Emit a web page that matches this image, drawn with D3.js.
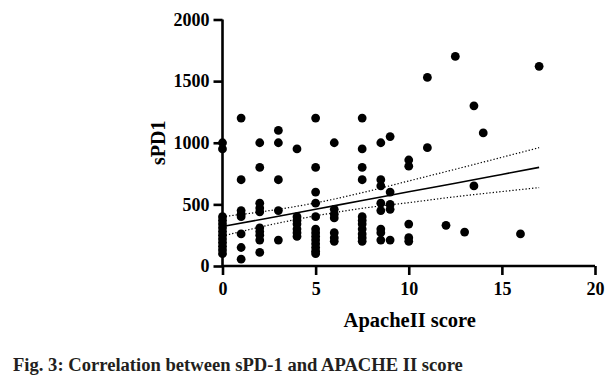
<!DOCTYPE html>
<html>
<head>
<meta charset="utf-8">
<script src="https://cdn.jsdelivr.net/npm/d3@7"></script>
<style>
  html, body { margin: 0; padding: 0; background: #fff; }
  svg { display: block; }
</style>
</head>
<body>
<svg id="chart" width="610" height="382"></svg>
<script>
// ---- Data ----
const apacheScores = [
  0,0,0,0,0,0,0,0,0,0,0,0,0,
  1,1,1,1,1,1,1,1,
  2,2,2,2,2,2,2,2,2,2,
  3,3,3,3,3,
  4,4,4,4,4,4,4,
  5,5,5,5,5,5,5,5,5,5,5,5,5,
  6,6,6,6,6,6,6,
  7.5,7.5,7.5,7.5,7.5,7.5,7.5,7.5,7.5,7.5,7.5,
  8.5,8.5,8.5,8.5,8.5,8.5,8.5,8.5,
  9,9,9,9,9,
  10,10,10,10,10,
  11,11,12,12.5,13,13.5,13.5,14,16,17
];
const sPD1Values = [
  1000,950,400,370,340,310,280,250,220,190,160,130,100,
  1200,700,450,420,400,260,150,55,
  1000,800,510,470,440,310,280,250,210,110,
  1100,1000,700,450,210,
  950,400,370,340,300,270,240,
  1200,800,600,510,400,300,270,240,210,180,150,120,100,
  1000,460,420,390,270,230,200,
  1200,950,800,700,400,370,340,300,260,230,200,
  1000,700,650,510,450,300,270,210,
  1050,600,500,460,210,
  860,810,340,230,200,
  1530,960,330,1700,275,1300,650,1080,260,1620
];
// regression line and 95% confidence band
const fitX     = [0, 2.5, 5, 7.5, 10, 12.5, 15, 17];
const fitY     = [320, 390, 461, 531, 602, 672, 743, 800];
const ciUpper  = [400, 449, 512, 595, 690, 785, 882, 960];
const ciLower  = [243, 332, 407, 468, 514, 562, 604, 636];
const xTicks = [0, 5, 10, 15, 20];
const yTicks = [0, 500, 1000, 1500, 2000];

// ---- Layout ----
const svg = d3.select("#chart");
const mLeft = 222.5, mRight = 595, mTop = 19.5, mBottom = 266;
const x = d3.scaleLinear().domain([0, 20]).range([mLeft, mRight]);
const y = d3.scaleLinear().domain([0, 2000]).range([mBottom, mTop]);
const serif = "'Liberation Serif', 'Times New Roman', serif";

// points
svg.append("g").selectAll("circle")
  .data(apacheScores.map((d, i) => [d, sPD1Values[i]]))
  .join("circle")
  .attr("cx", d => x(d[0]))
  .attr("cy", d => y(d[1]))
  .attr("r", 4.4)
  .attr("fill", "#000");

// regression + CI
const line = d3.line().x(d => x(d[0])).y(d => y(d[1])).curve(d3.curveMonotoneX);
svg.append("path")
  .datum(fitX.map((d, i) => [d, fitY[i]]))
  .attr("d", line).attr("fill", "none").attr("stroke", "#000").attr("stroke-width", 1.6);
[ciUpper, ciLower].forEach(arr => {
  svg.append("path")
    .datum(fitX.map((d, i) => [d, arr[i]]))
    .attr("d", line).attr("fill", "none").attr("stroke", "#000")
    .attr("stroke-width", 1.2).attr("stroke-dasharray", "1.3,2");
});

// axes
const xAxis = svg.append("g").attr("transform", `translate(0,${mBottom})`)
  .call(d3.axisBottom(x).tickValues(xTicks).tickSize(9).tickPadding(7).tickFormat(d3.format("d")));
const yAxis = svg.append("g").attr("transform", `translate(${mLeft},0)`)
  .call(d3.axisLeft(y).tickValues(yTicks).tickSize(9).tickPadding(4).tickFormat(d3.format("d")));
[xAxis, yAxis].forEach(g => {
  g.select(".domain").attr("stroke", "#000").attr("stroke-width", 2.6);
  g.selectAll(".tick line").attr("stroke", "#000").attr("stroke-width", 2.6);
  g.selectAll(".tick text").attr("fill", "#000")
    .style("font-family", serif).style("font-weight", "bold").style("font-size", "18px");
});
xAxis.select(".domain").attr("d", `M${mLeft},0H${mRight}`);
yAxis.select(".domain").attr("d", `M0,${mBottom}V${mTop}`);
xAxis.selectAll(".tick text").attr("dy", "0.72em");

// axis titles
svg.append("text")
  .attr("x", (mLeft + mRight) / 2 + 1).attr("y", 327)
  .attr("text-anchor", "middle")
  .style("font-family", serif).style("font-weight", "bold").style("font-size", "20.5px")
  .text("ApacheII score");
svg.append("text")
  .attr("transform", `translate(165,${(mTop + mBottom) / 2}) rotate(-90)`)
  .attr("text-anchor", "middle")
  .style("font-family", serif).style("font-weight", "bold").style("font-size", "20px")
  .text("sPD1");

// caption
svg.append("text")
  .attr("x", 13).attr("y", 371)
  .attr("fill", "#231f20")
  .style("font-family", serif).style("font-weight", "bold").style("font-size", "18.6px")
  .text("Fig. 3: Correlation between sPD-1 and APACHE II score");
</script>
</body>
</html>
